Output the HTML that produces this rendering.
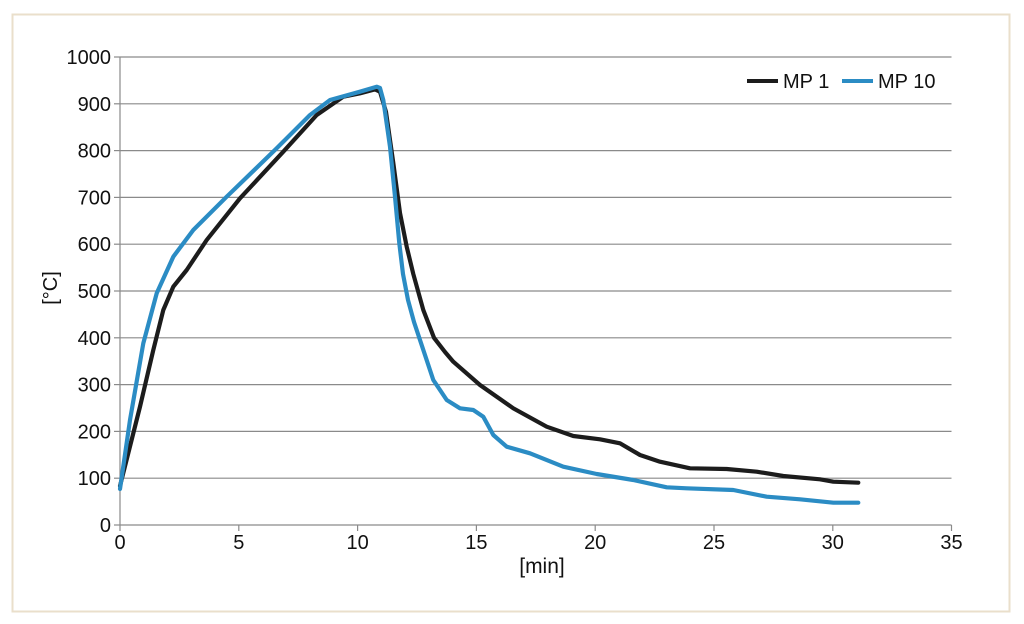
<!DOCTYPE html>
<html>
<head>
<meta charset="utf-8">
<style>
html,body{margin:0;padding:0;background:#fff;}
svg{display:block;}
text{font-family:"Liberation Sans",sans-serif;fill:#111;}
</style>
</head>
<body>
<svg width="1024" height="624" viewBox="0 0 1024 624" xmlns="http://www.w3.org/2000/svg">
<rect x="0" y="0" width="1024" height="624" fill="#fff"/>
<rect x="12.5" y="14.5" width="997" height="597" fill="#fff" stroke="#eadfcb" stroke-width="2"/>
<g stroke="#8a8a8a" stroke-width="1.2">
<line x1="120" y1="478.2" x2="951.5" y2="478.2"/>
<line x1="120" y1="431.4" x2="951.5" y2="431.4"/>
<line x1="120" y1="384.6" x2="951.5" y2="384.6"/>
<line x1="120" y1="337.8" x2="951.5" y2="337.8"/>
<line x1="120" y1="291" x2="951.5" y2="291"/>
<line x1="120" y1="244.2" x2="951.5" y2="244.2"/>
<line x1="120" y1="197.4" x2="951.5" y2="197.4"/>
<line x1="120" y1="150.6" x2="951.5" y2="150.6"/>
<line x1="120" y1="103.8" x2="951.5" y2="103.8"/>
<line x1="120" y1="57" x2="951.5" y2="57"/>
<line x1="120" y1="525" x2="951.5" y2="525"/>
<line x1="120" y1="57" x2="120" y2="525"/>
<line x1="114" y1="525" x2="120" y2="525"/>
<line x1="114" y1="478.2" x2="120" y2="478.2"/>
<line x1="114" y1="431.4" x2="120" y2="431.4"/>
<line x1="114" y1="384.6" x2="120" y2="384.6"/>
<line x1="114" y1="337.8" x2="120" y2="337.8"/>
<line x1="114" y1="291" x2="120" y2="291"/>
<line x1="114" y1="244.2" x2="120" y2="244.2"/>
<line x1="114" y1="197.4" x2="120" y2="197.4"/>
<line x1="114" y1="150.6" x2="120" y2="150.6"/>
<line x1="114" y1="103.8" x2="120" y2="103.8"/>
<line x1="114" y1="57" x2="120" y2="57"/>
<line x1="120" y1="525" x2="120" y2="531"/>
<line x1="238.8" y1="525" x2="238.8" y2="531"/>
<line x1="357.6" y1="525" x2="357.6" y2="531"/>
<line x1="476.4" y1="525" x2="476.4" y2="531"/>
<line x1="595.2" y1="525" x2="595.2" y2="531"/>
<line x1="714" y1="525" x2="714" y2="531"/>
<line x1="832.8" y1="525" x2="832.8" y2="531"/>
<line x1="951.5" y1="525" x2="951.5" y2="531"/>
</g>
<g font-size="20" text-anchor="end">
<text x="111" y="532">0</text>
<text x="111" y="485.2">100</text>
<text x="111" y="438.4">200</text>
<text x="111" y="391.6">300</text>
<text x="111" y="344.8">400</text>
<text x="111" y="298">500</text>
<text x="111" y="251.2">600</text>
<text x="111" y="204.4">700</text>
<text x="111" y="157.6">800</text>
<text x="111" y="110.8">900</text>
<text x="111" y="64">1000</text>
</g>
<g font-size="20" text-anchor="middle">
<text x="120" y="549">0</text>
<text x="238.8" y="549">5</text>
<text x="357.6" y="549">10</text>
<text x="476.4" y="549">15</text>
<text x="595.2" y="549">20</text>
<text x="714" y="549">25</text>
<text x="832.8" y="549">30</text>
<text x="951.5" y="549">35</text>
</g>
<text x="542" y="573" font-size="21" text-anchor="middle">[min]</text>
<text transform="translate(57,288) rotate(-90)" font-size="20" text-anchor="middle">[°C]</text>
<path fill="none" stroke="#1c1c1c" stroke-width="4.2" stroke-linejoin="round" stroke-linecap="round" d="M120,486 L140,406.7 L153.3,350 L163.3,310 L173.3,286.7 L186.7,270 L206.7,240 L240,198.3 L283.3,151.7 L316.7,115 L343.3,96.7 L360,93.3 L375,89.3 L380,91.7 L386,112 L390,140 L393.3,163 L400,213 L406.7,246.7 L413.3,274 L423.3,310 L434,337.8 L445,352 L453.3,361.7 L480,385 L513.3,408.3 L546.7,426.7 L573.3,436 L600,439.3 L620,443.3 L640,455 L660,461.7 L690,468.3 L726.7,469 L756.7,471.7 L783.3,476 L820,479.3 L833.3,481.7 L858.3,482.7"/>
<path fill="none" stroke="#2b8cc4" stroke-width="4.2" stroke-linejoin="round" stroke-linecap="round" d="M120,489 L130,420 L143.3,343.3 L156.7,293.3 L173.3,256.7 L193.3,230 L226.7,196.7 L276.7,148.3 L310,115 L330,100 L360,91.7 L376.7,86.7 L380,88 L383.3,100 L390,146.7 L395,196.7 L399.3,243.3 L403,274 L408,300 L414,322 L420,340 L433.3,380 L446.7,400 L460,408.3 L473.3,410 L483.3,416.7 L493.3,435 L506.7,446.7 L530,453.3 L563.3,466.7 L596.7,474 L633.3,480 L666.7,487.3 L686.7,488.3 L733.3,490 L766.7,496.7 L800,499.3 L833.3,502.7 L858.3,502.7"/>
<line x1="747" y1="81" x2="778" y2="81" stroke="#1c1c1c" stroke-width="4"/>
<text x="783" y="88" font-size="20">MP 1</text>
<line x1="842" y1="81" x2="873" y2="81" stroke="#2b8cc4" stroke-width="4"/>
<text x="878" y="88" font-size="20">MP 10</text>
</svg>
</body>
</html>
